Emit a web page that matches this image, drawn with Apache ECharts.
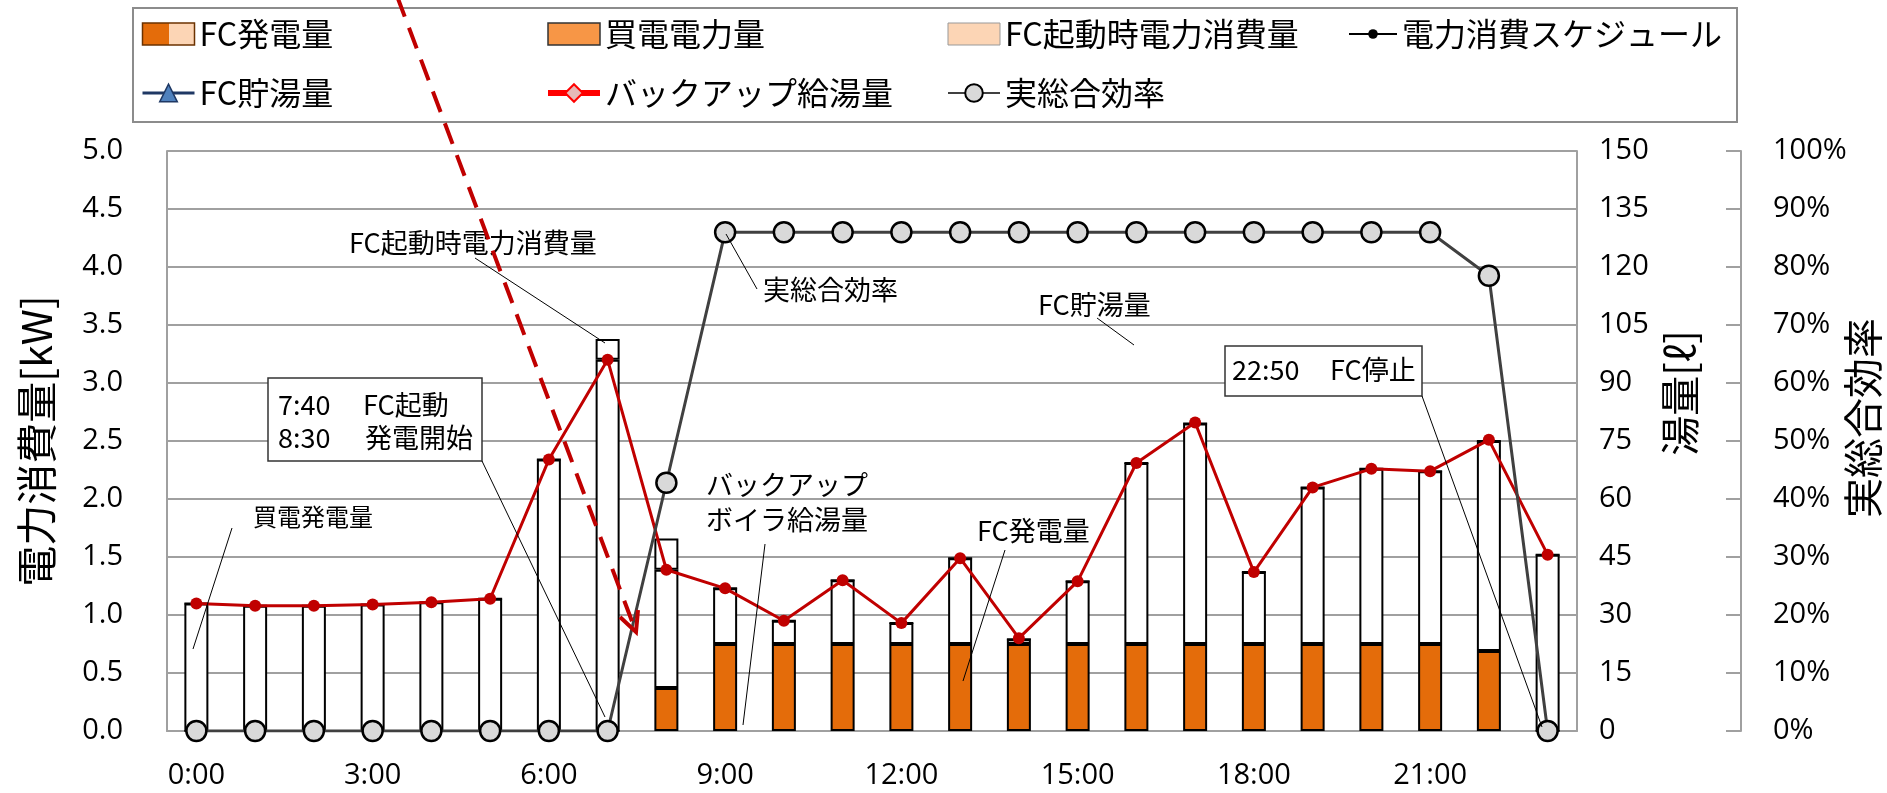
<!DOCTYPE html>
<html>
<head>
<meta charset="utf-8">
<title>電力消費スケジュールと実総合効率</title>
<script src="https://cdn.jsdelivr.net/npm/echarts@6/dist/echarts.min.js"></script>
<style>
  html, body { margin: 0; padding: 0; background: #fff; }
  #chart { width: 1887px; height: 793px; }
</style>
</head>
<body>
<div id="chart"></div>
<script>
// hourly categories
const hours = ['0:00', '1:00', '2:00', '3:00', '4:00', '5:00', '6:00', '7:00', '8:00', '9:00', '10:00', '11:00',
  '12:00', '13:00', '14:00', '15:00', '16:00', '17:00', '18:00', '19:00', '20:00', '21:00', '22:00', '23:00'];

// kW, stacked bars
const fcPower = [0, 0, 0, 0, 0, 0, 0, 0, 0.37, 0.75, 0.75, 0.75, 0.75, 0.75, 0.75, 0.75, 0.75, 0.75, 0.75, 0.75, 0.75, 0.75, 0.69, 0];
const buyPower = [1.10, 1.08, 1.08, 1.09, 1.11, 1.14, 2.34, 3.20, 1.02, 0.48, 0.20, 0.55, 0.18, 0.74, 0.04, 0.54, 1.56, 1.90, 0.62, 1.35, 1.51, 1.49, 1.81, 1.52];
const startupPower = [0, 0, 0, 0, 0, 0, 0, 0.18, 0.27, 0, 0, 0, 0, 0, 0, 0, 0, 0, 0, 0, 0, 0, 0, 0];

// kW, red line
const schedule = [1.10, 1.08, 1.08, 1.09, 1.11, 1.14, 2.34, 3.20, 1.39, 1.23, 0.95, 1.30, 0.93, 1.49, 0.80, 1.29, 2.31, 2.66, 1.37, 2.10, 2.26, 2.24, 2.51, 1.52];

// litres - not visible in the figure
const fcStoredHot = [];
const backupHot = [];

// %
const efficiency = [0, 0, 0, 0, 0, 0, 0, 0, 42.8, 86, 86, 86, 86, 86, 86, 86, 86, 86, 86, 86, 86, 86, 78.5, 0];

const JP = "'Noto Sans CJK JP', sans-serif";
const NUM = "'Open Sans', sans-serif";
const GRID = '#a0a0a0';
const ORANGE = '#E46C0A';
const RED = '#C00000';

const chart = echarts.init(document.getElementById('chart'));

const legendText = { fontSize: 32, fontFamily: JP, color: '#000', lineHeight: 40 };
const legendBase = { orient: 'vertical', padding: 0, itemGap: 19, itemWidth: 52, itemHeight: 22,
  top: 14, textStyle: legendText, selectedMode: false };

const fcIcon = new echarts.graphic.LinearGradient(0, 0, 1, 0, [
  { offset: 0, color: ORANGE }, { offset: 0.5, color: ORANGE },
  { offset: 0.5, color: '#FCD5B5' }, { offset: 1, color: '#FCD5B5' }
]);

function txt(x, y, text, size) {
  return { type: 'text', x: x, y: y, z: 20,
    style: { text: text, fontSize: size || 27, fontFamily: JP, fill: '#000', verticalAlign: 'middle' } };
}
function ln(x1, y1, x2, y2) {
  return { type: 'line', z: 20, shape: { x1: x1, y1: y1, x2: x2, y2: y2 }, style: { stroke: '#000', lineWidth: 1 } };
}
function box(x, y, w, h) {
  return { type: 'rect', z: 19, shape: { x: x, y: y, width: w, height: h },
    style: { fill: '#fff', stroke: '#333', lineWidth: 1.5 } };
}

const option = {
  animation: false,
  backgroundColor: '#fff',
  legend: [
    Object.assign({}, legendBase, { left: 141, data: [
      { name: 'FC発電量', icon: 'rect', itemStyle: { color: fcIcon, borderColor: '#6b3200', borderWidth: 1.5 } },
      { name: 'FC貯湯量', itemStyle: { color: '#4F81BD', borderColor: '#1F3864', borderWidth: 1.5 },
        lineStyle: { color: '#1F3864', width: 3 } }
    ] }),
    Object.assign({}, legendBase, { left: 545, data: [
      { name: '買電電力量', icon: 'rect', itemStyle: { color: '#F79646', borderColor: '#333', borderWidth: 1.5 } },
      { name: 'バックアップ給湯量', itemStyle: { color: '#E6B9B8', borderColor: '#FF0000', borderWidth: 2 },
        lineStyle: { color: '#FF0000', width: 6 } }
    ] }),
    Object.assign({}, legendBase, { left: 947, data: [
      { name: 'FC起動時電力消費量', icon: 'rect', itemStyle: { color: '#FCD5B5', borderColor: '#999', borderWidth: 1 } },
      { name: '実総合効率', itemStyle: { color: '#D9D9D9', borderColor: '#000', borderWidth: 2 },
        lineStyle: { color: '#404040', width: 2 } }
    ] }),
    Object.assign({}, legendBase, { left: 1348, itemWidth: 48, itemHeight: 12, data: [
      { name: '電力消費スケジュール', itemStyle: { color: '#000', borderWidth: 0 }, lineStyle: { color: '#000', width: 2 } }
    ] })
  ],
  grid: { left: 167, right: 310, top: 151, bottom: 62, outerBoundsMode: 'none' },
  xAxis: {
    type: 'category',
    data: hours,
    axisLine: { lineStyle: { color: GRID, width: 2 } },
    axisTick: { show: false },
    axisLabel: { interval: 2, fontSize: 29, fontFamily: NUM, color: '#000', margin: 30 },
    splitLine: { show: false }
  },
  yAxis: [
    {
      type: 'value', min: 0, max: 5, interval: 0.5,
      name: '電力消費量[kW]', nameLocation: 'middle', nameRotate: 90, nameGap: 110,
      nameTextStyle: { fontSize: 41, fontFamily: JP, color: '#000' },
      axisLine: { show: true, lineStyle: { color: GRID, width: 2 } },
      axisTick: { show: false },
      axisLabel: { fontSize: 29, fontFamily: NUM, color: '#000', margin: 44, formatter: v => v.toFixed(1) },
      splitLine: { lineStyle: { color: GRID, width: 2 } }
    },
    {
      type: 'value', position: 'right', min: 0, max: 150, interval: 15,
      name: '湯量[ℓ]', nameLocation: 'middle', nameRotate: 90, nameGap: 81,
      nameTextStyle: { fontSize: 40, fontFamily: JP, color: '#000', padding: [0, 0, 0, 96] },
      axisLine: { show: true, lineStyle: { color: GRID, width: 2 } },
      axisTick: { show: false },
      axisLabel: { fontSize: 29, fontFamily: NUM, color: '#000', margin: 22 },
      splitLine: { show: false }
    },
    {
      type: 'value', position: 'right', offset: 164, min: 0, max: 100, interval: 10,
      name: '実総合効率', nameLocation: 'middle', nameRotate: 90, nameGap: 102, nameMoveOverlap: false,
      nameTextStyle: { fontSize: 40, fontFamily: JP, color: '#000', padding: [0, 0, 0, 46] },
      axisLine: { show: true, lineStyle: { color: GRID, width: 2 } },
      axisTick: { show: true, inside: true, length: 15, lineStyle: { color: GRID, width: 2 } },
      axisLabel: { fontSize: 29, fontFamily: NUM, color: '#000', margin: 32, formatter: '{value}%' },
      splitLine: { show: false }
    }
  ],
  series: [
    { name: 'FC発電量', type: 'bar', stack: 'kw', barWidth: 24, data: fcPower,
      itemStyle: { color: ORANGE, borderColor: '#000', borderWidth: 2 } },
    { name: '買電電力量', type: 'bar', stack: 'kw', data: buyPower,
      itemStyle: { color: '#fff', borderColor: '#000', borderWidth: 2 } },
    { name: 'FC起動時電力消費量', type: 'bar', stack: 'kw', data: startupPower,
      itemStyle: { color: '#fff', borderColor: '#000', borderWidth: 2 } },
    { name: '電力消費スケジュール', type: 'line', yAxisIndex: 0, data: schedule, z: 4,
      symbol: 'circle', symbolSize: 12, lineStyle: { color: RED, width: 3 }, itemStyle: { color: RED } },
    { name: 'FC貯湯量', type: 'line', yAxisIndex: 1, data: fcStoredHot, symbol: 'triangle',
      lineStyle: { color: '#1F3864', width: 3 }, itemStyle: { color: '#4F81BD' } },
    { name: 'バックアップ給湯量', type: 'line', yAxisIndex: 1, data: backupHot, symbol: 'diamond',
      lineStyle: { color: '#FF0000', width: 3 }, itemStyle: { color: '#E6B9B8' } },
    { name: '実総合効率', type: 'line', yAxisIndex: 2, data: efficiency, z: 5,
      symbol: 'circle', symbolSize: 20, lineStyle: { color: '#404040', width: 3 },
      itemStyle: { color: '#D9D9D9', borderColor: '#000', borderWidth: 2.5 } }
  ],
  graphic: [
    // legend frame
    { type: 'rect', z: 1, shape: { x: 133, y: 8, width: 1604, height: 114 },
      style: { fill: 'none', stroke: '#8c8c8c', lineWidth: 2 } },

    // callouts
    txt(349, 243, 'FC起動時電力消費量'), ln(475, 258, 605, 343),
    box(268, 378, 214, 83),
    txt(278, 405, '7:40'), txt(363, 405, 'FC起動'),
    txt(278, 438, '8:30'), txt(365, 438, '発電開始'),
    ln(482, 461, 605, 717),
    txt(253, 517, '買電発電量', 24), ln(232, 528, 193, 649),
    txt(763, 290, '実総合効率'), ln(726, 234, 757, 289),
    txt(1038, 305, 'FC貯湯量'), ln(1097, 318, 1134, 345),
    txt(706, 485, 'バックアップ'), txt(706, 520, 'ボイラ給湯量'), ln(765, 544, 743, 725),
    txt(977, 531, 'FC発電量'), ln(1005, 550, 963, 681),
    box(1225, 346, 197, 50),
    txt(1232, 370, '22:50'), txt(1330, 370, 'FC停止'),
    ln(1422, 396, 1542, 727),

    // red dashed arrow
    { type: 'line', z: 30, shape: { x1: 397, y1: -4, x2: 636, y2: 632 },
      style: { stroke: RED, lineWidth: 4, lineDash: [22, 12] } },
    { type: 'polyline', z: 30, shape: { points: [[620, 617], [636, 632], [638, 610]] },
      style: { stroke: RED, lineWidth: 4, fill: 'none' } }
  ]
};

chart.setOption(option);
window.addEventListener('resize', chart.resize);
</script>
</body>
</html>
